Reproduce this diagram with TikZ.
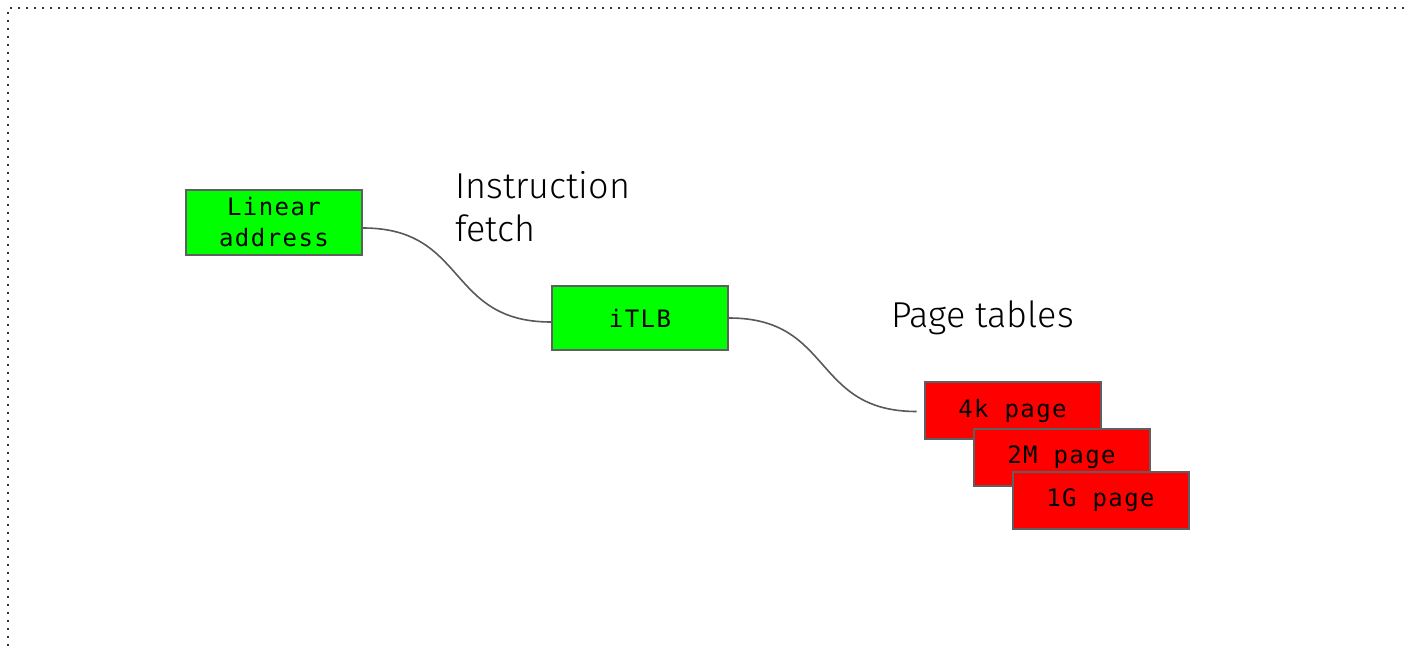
\documentclass[tikz,border=0pt]{standalone}
\usepackage{fontspec}
\setmainfont{Fira Sans Light}
\newfontfamily\boxfont[LetterSpace=6]{DejaVu Sans Mono}
\usetikzlibrary{calc}
\definecolor{boxline}{HTML}{5F5F5F}
\definecolor{wire}{HTML}{595959}
\definecolor{tlbgreen}{HTML}{00FF00}
\definecolor{pagered}{HTML}{FF0000}
\tikzset{
  unit/.style={draw=boxline, line width=2pt, minimum width=176pt, inner sep=0pt,
    font=\boxfont\fontsize{24}{31}\selectfont, align=center},
  greenbox/.style={unit, fill=tlbgreen},
  redbox/.style={unit, fill=pagered, minimum height=57pt},
  wirestyle/.style={draw=wire, line width=1.6pt},
  caption/.style={font=\fontsize{36}{43}\selectfont, align=left, inner sep=0pt},
  frame/.style={draw=black!80, line width=2pt, dash pattern=on 2pt off 6pt}
}
\begin{document}
\begin{tikzpicture}[x=1pt, y=-1pt]
  \useasboundingbox (0,0) rectangle (1404,652);
  % dotted outline along the top and left edges
  \draw[frame] (1404,8) -- (8,8) -- (8,652);

  % address and TLB
  \node[greenbox, minimum height=65pt] (lin) at (274,222.5) {Linear\\address};
  \node[greenbox, minimum height=64pt] (itlb) at (640,318) {iTLB};

  % stacked page-table entries
  \node[redbox] (p4k) at (1012.5,410.5) {4k page};
  \node[redbox] (p2m) at (1061.5,457.5) {2M page};
  \node[redbox] (p1g) at (1100.5,500.5) {1G page};

  % labels (base anchor sits on the last line)
  \node[caption, anchor=base west] (lblfetch) at (455,241.5) {Instruction\\fetch};
  \node[caption, anchor=base west] (lblpt) at (891,327) {Page tables};

  % connectors
  \coordinate (ptin) at ($(p4k.west)+(-7,1)$);
  \draw[wirestyle] ($(lin.east)+(0,5.5)$) .. controls +(105,0) and +(-105,0) .. ($(itlb.west)+(0,4)$);
  \draw[wirestyle] (itlb.east) .. controls +(105,0) and +(-105,0) .. (ptin);
\end{tikzpicture}
\end{document}
